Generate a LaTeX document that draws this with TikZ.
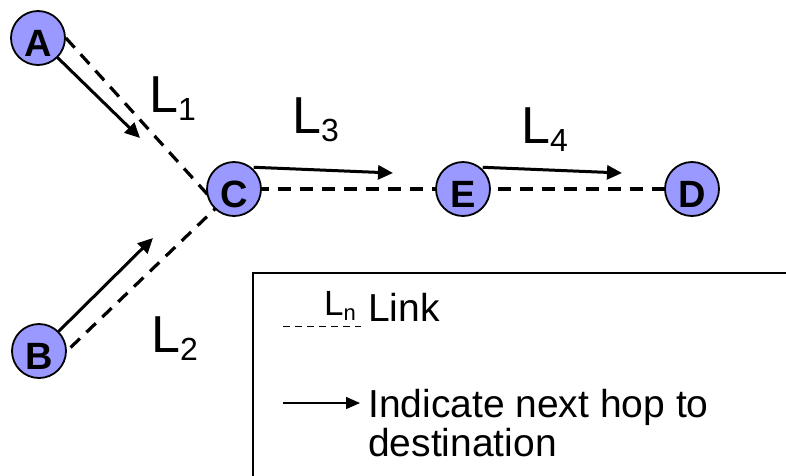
\documentclass[tikz,border=0pt]{standalone}
\usepackage{fontspec}
\setmainfont{Liberation Sans}
\usetikzlibrary{arrows.meta,backgrounds}
\definecolor{nodeblue}{HTML}{9999FF}
% link label: big L with a lowered index
\newcommand\linklabel[1]{L\raisebox{-0.17em}{\fontsize{32}{32}\selectfont #1}}
\begin{document}
\begin{tikzpicture}[x=1pt,y=-1pt,
  hostnode/.style={circle,draw=black,line width=1.8pt,fill=nodeblue,
    minimum size=54pt,inner sep=0pt,text height=37pt,text depth=0pt,
    font=\fontsize{38}{38}\selectfont\bfseries},
  linkline/.style={line width=3.2pt,dash pattern=on 13pt off 9pt},
  hop/.style={line width=3pt,-{Triangle[length=15pt,width=14pt]}},
  linktext/.style={anchor=base west,inner sep=0pt,
    font=\fontsize{52}{52}\selectfont},
  legendtext/.style={anchor=base west,inner sep=0pt,
    font=\fontsize{39}{39}\selectfont}]
\useasboundingbox (0,0) rectangle (786,475);
\clip (0,0) rectangle (786,475);

% hosts
\node[hostnode] (A) at (38,38)  {A};
\node[hostnode] (B) at (39,351) {B};
\node[hostnode] (C) at (234,189) {C};
\node[hostnode] (E) at (463,189) {E};
\node[hostnode] (D) at (692,189) {D};

% links (dashed), drawn behind the hosts
\coordinate (J) at (218,206);
\begin{scope}[on background layer]
  \draw[linkline] (A.east) -- (J) -- (B.east);
  \draw[linkline] (C.center) -- (E.center) -- (D.center);
\end{scope}

% next-hop arrows
\coordinate (a1) at (140,138);
\coordinate (b1) at (153,238);
\coordinate (c1) at (393,173);
\coordinate (e1) at (622,173);
\path (C.north east) ++(0,-2) coordinate (c0);
\path (E.north east) ++(0,-2) coordinate (e0);
\draw[hop] (A.south east) -- (a1);
\draw[hop] (B.north east) -- (b1);
\draw[hop] (c0) -- (c1);
\draw[hop] (e0) -- (e1);

% link names
\node[linktext] (L1) at (149,112) {\linklabel{1}};
\node[linktext] (L2) at (151,352) {\linklabel{2}};
\node[linktext] (L3) at (292,133) {\linklabel{3}};
\node[linktext] (L4) at (521,143) {\linklabel{4}};

% legend
\draw[line width=1.8pt] (253,520) -- (253,273) -- (800,273);
\coordinate (ld0) at (283,326);
\coordinate (ld1) at (361,326);
\draw[line width=1pt,dash pattern=on 7pt off 5pt] (ld0) -- (ld1);
\node[anchor=base west,inner sep=0pt,font=\fontsize{35}{35}\selectfont] (Ln) at (324,315)
  {L\raisebox{-0.17em}{\fontsize{22}{22}\selectfont n}};
\node[legendtext] (link) at (368,321) {Link};
\coordinate (la0) at (283,403);
\coordinate (la1) at (360,403);
\draw[line width=1.5pt,-{Triangle[length=14pt,width=12pt]}] (la0) -- (la1);
\node[legendtext] (ind) at (368,417) {Indicate next hop to};
\node[legendtext] (dest) at (368,456) {destination};
\end{tikzpicture}
\end{document}
